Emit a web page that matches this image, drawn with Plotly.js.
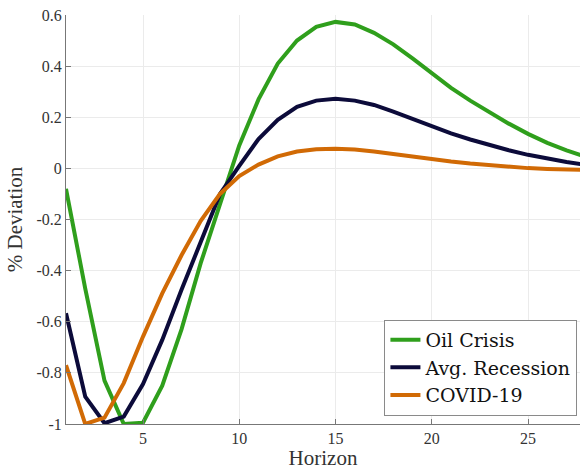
<!DOCTYPE html>
<html>
<head>
<meta charset="utf-8">
<script src="https://cdn.plot.ly/plotly-3.0.1.min.js"></script>
<style>html,body{margin:0;padding:0;background:#fff;}#chart{width:580px;height:470px;}</style>
</head>
<body>
<div id="chart"></div>
<script>
const horizon = [1,2,3,4,5,6,7,8,9,10,11,12,13,14,15,16,17,18,19,20,21,22,23,24,25,26,27,28];
const oilCrisis = [-0.08,-0.47,-0.83,-1.00,-0.995,-0.85,-0.63,-0.37,-0.14,0.09,0.27,0.41,0.50,0.554,0.573,0.563,0.53,0.485,0.43,0.37,0.315,0.265,0.22,0.175,0.135,0.10,0.07,0.045];
const avgRecession = [-0.567,-0.893,-0.997,-0.971,-0.844,-0.671,-0.475,-0.285,-0.10,0.01,0.115,0.19,0.241,0.265,0.272,0.265,0.248,0.222,0.193,0.164,0.137,0.113,0.091,0.071,0.053,0.038,0.025,0.014];
const covid19 = [-0.77,-1.0,-0.975,-0.84,-0.658,-0.489,-0.34,-0.205,-0.10,-0.03,0.015,0.047,0.066,0.075,0.077,0.074,0.066,0.056,0.045,0.036,0.027,0.019,0.012,0.006,0.001,-0.002,-0.004,-0.006];
const seriesNames = ["Oil Crisis","Avg. Recession","COVID-19"];
const xTicks = [5,10,15,20,25];
const yTicks = [-1,-0.8,-0.6,-0.4,-0.2,0,0.2,0.4,0.6];
const yTickText = ["-1","-0.8","-0.6","-0.4","-0.2","0","0.2","0.4","0.6"];

const colors = ["#2f9f1c","#0c0b3a","#d16a05"];
const font = "Liberation Serif, DejaVu Serif, serif";
const legendFont = "DejaVu Serif, Liberation Serif, serif";
const ys = [oilCrisis, avgRecession, covid19];
const traces = ys.map((y,i)=>({
  x: horizon, y: y, type:"scatter", mode:"lines", name: seriesNames[i],
  line:{color:colors[i], width:4}
}));

const layout = {
  width:580, height:470,
  margin:{l:66, r:0, t:15, b:46},
  paper_bgcolor:"#fff", plot_bgcolor:"#fff",
  font:{family:font, color:"#333", size:16},
  showlegend:true,
  legend:{x:0.995, y:0.02, xanchor:"right", yanchor:"bottom", bgcolor:"#fff",
    bordercolor:"#8a8a8a", borderwidth:1, font:{family:legendFont, size:19, color:"#111"},
    tracegroupgap:0},
  xaxis:{range:[1,27.7], tickvals:xTicks, ticktext:xTicks.map(String),
    showgrid:true, gridcolor:"#ebebeb", zeroline:false,
    showline:true, linecolor:"#777", linewidth:1, ticks:"inside", ticklen:5, tickcolor:"#777",
    tickfont:{family:font, size:16, color:"#333"},
    title:{text:"Horizon", font:{family:font, size:21, color:"#333"}, standoff:6}},
  yaxis:{range:[-1,0.6], tickvals:yTicks, ticktext:yTickText,
    showgrid:true, gridcolor:"#ebebeb", zeroline:false,
    showline:true, linecolor:"#777", linewidth:1, ticks:"inside", ticklen:5, tickcolor:"#777",
    tickfont:{family:font, size:16, color:"#333"},
    title:{text:"% Deviation", font:{family:font, size:21, color:"#333"}, standoff:8}}
};
Plotly.newPlot("chart", traces, layout, {displayModeBar:false, staticPlot:true});
</script>
</body>
</html>
